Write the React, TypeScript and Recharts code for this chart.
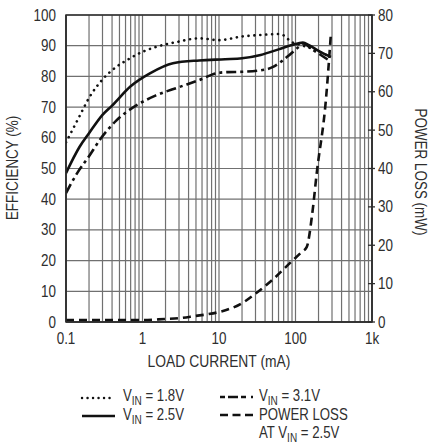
import React from "react";
import {
  CartesianGrid,
  Line,
  LineChart,
  ReferenceArea,
  XAxis,
  YAxis,
} from "recharts";

const FONT = '"Liberation Sans", Arial, sans-serif';
const INK = "#2e2e2e";
const SQUEEZE = 0.84;

// load current (mA) and efficiency (%) per input voltage
const current18 = [0.1, 0.15, 0.2, 0.3, 0.4, 0.7, 1, 1.5, 2.8, 5.5, 10, 20, 35, 60, 72, 85, 115, 170, 290];
const eff18 = [58.5, 67, 73, 79, 82, 86, 88, 89.6, 91.2, 92.4, 91.8, 93, 93.5, 93.8, 93.2, 91.5, 90.3, 88.9, 86.2];

const current25 = [0.1, 0.15, 0.2, 0.3, 0.4, 0.7, 1.25, 2.5, 5.5, 12, 20, 35, 60, 90, 125, 150, 200, 290];
const eff25 = [48.5, 57, 61.5, 67.5, 70.5, 76.8, 81, 84.3, 85.2, 85.6, 85.9, 87, 88.8, 90.2, 91, 90.2, 88.3, 86.3];

const current31 = [0.1, 0.14, 0.2, 0.28, 0.45, 0.85, 1.5, 3, 5.5, 9.5, 13, 20, 40, 50, 77, 110, 125, 170, 290];
const eff31 = [42, 48.5, 54, 59.5, 65.5, 70.7, 73.8, 76.5, 78.8, 81.1, 81.4, 81.5, 82.2, 83, 86.3, 89.6, 90.7, 88.6, 84.8];

// power loss (mW) at VIN = 2.5V
const currentLoss = [0.1, 1, 2, 3, 5, 7, 10, 20, 30, 50, 85, 120, 140, 165, 190, 250, 290];
const powerLoss = [0.5, 0.5, 0.8, 1.0, 1.6, 2.0, 2.6, 4.9, 7.4, 11, 15.4, 18.2, 19.5, 28, 39, 58, 75];

const X_TICKS = [
  0.1, 0.2, 0.3, 0.4, 0.5, 0.6, 0.7, 0.8, 0.9,
  1, 2, 3, 4, 5, 6, 7, 8, 9,
  10, 20, 30, 40, 50, 60, 70, 80, 90,
  100, 200, 300, 400, 500, 600, 700, 800, 900,
  1000,
];
const X_LABELS: Record<string, string> = {
  "0.1": "0.1",
  "1": "1",
  "10": "10",
  "100": "100",
  "1000": "1k",
};
const EFF_TICKS = [0, 10, 20, 30, 40, 50, 60, 70, 80, 90, 100];
const LOSS_TICKS = [0, 10, 20, 30, 40, 50, 60, 70, 80];

const zip = (xs: number[], ys: number[]) =>
  xs.map((x, i) => ({ x, y: ys[i] }));

const series18 = zip(current18, eff18);
const series25 = zip(current25, eff25);
const series31 = zip(current31, eff31);
const seriesLoss = zip(currentLoss, powerLoss);

// narrow text: the reference uses a condensed sans
function Narrow({
  x,
  y,
  anchor = "start",
  size = 16,
  rotate = 0,
  squeeze = SQUEEZE,
  children,
}: {
  x: number;
  y: number;
  anchor?: "start" | "middle" | "end";
  size?: number;
  rotate?: number;
  squeeze?: number;
  children: React.ReactNode;
}) {
  return (
    <text
      transform={`translate(${x}, ${y}) rotate(${rotate}) scale(${squeeze}, 1)`}
      textAnchor={anchor}
      fontSize={size}
      fontFamily={FONT}
      fill={INK}
    >
      {children}
    </text>
  );
}

function XTick({ x, y, payload }: any) {
  const label = X_LABELS[String(payload.value)];
  if (!label) return null;
  return (
    <Narrow x={x} y={y + 22} anchor="middle">
      {label}
    </Narrow>
  );
}

function LeftTick({ x, y, payload }: any) {
  return (
    <Narrow x={x - 10} y={y + 5.5} anchor="end">
      {payload.value}
    </Narrow>
  );
}

function RightTick({ x, y, payload }: any) {
  return (
    <g>
      <line x1={x - 4} x2={x + 3} y1={y} y2={y} stroke={INK} strokeWidth={1.3} />
      <Narrow x={x + 6} y={y + 5.5}>
        {payload.value}
      </Narrow>
    </g>
  );
}

function Sample({ dash, cap }: { dash?: string; cap?: "round" | "butt" }) {
  return (
    <svg width={33} height={6} style={{ display: "block" }}>
      <line
        x1={cap === "round" ? 2 : 0}
        x2={33}
        y1={3}
        y2={3}
        stroke="#111"
        strokeWidth={cap === "round" ? 2.4 : 2.6}
        strokeDasharray={dash}
        strokeLinecap={cap ?? "butt"}
      />
    </svg>
  );
}

function Vin() {
  return (
    <tspan>
      V<tspan fontSize={12.5} dy={3.5}>IN</tspan>
      <tspan dy={-3.5}> = </tspan>
    </tspan>
  );
}

export default function App() {
  return (
    <div style={{ position: "relative", width: 435, height: 447, background: "#fff" }}>
      <style>{`body{margin:0}`}</style>
      <LineChart
        width={435}
        height={370}
        margin={{ top: 15, right: 0, bottom: 0, left: 0 }}
        style={{ position: "absolute", left: 0, top: 0 }}
      >
        <CartesianGrid yAxisId="eff" stroke="#707070" strokeWidth={1.2} />
        <XAxis
          dataKey="x"
          type="number"
          scale="log"
          domain={[0.1, 1000]}
          allowDataOverflow
          ticks={X_TICKS}
          interval={0}
          height={48}
          tick={<XTick />}
          tickLine={false}
          tickSize={0}
          tickMargin={0}
          axisLine={{ stroke: INK, strokeWidth: 1.5 }}
        />
        <YAxis
          yAxisId="eff"
          orientation="left"
          type="number"
          domain={[0, 100]}
          ticks={EFF_TICKS}
          interval={0}
          width={66}
          tick={<LeftTick />}
          tickLine={false}
          tickSize={0}
          tickMargin={0}
          axisLine={{ stroke: INK, strokeWidth: 1.5 }}
        />
        <YAxis
          yAxisId="loss"
          orientation="right"
          type="number"
          domain={[0, 80]}
          ticks={LOSS_TICKS}
          interval={0}
          width={63}
          tick={<RightTick />}
          tickLine={false}
          tickSize={0}
          tickMargin={0}
          axisLine={{ stroke: INK, strokeWidth: 1.5 }}
        />
        <ReferenceArea
          yAxisId="eff"
          x1={0.1}
          x2={1000}
          y1={0}
          y2={100}
          fill="none"
          stroke={INK}
          strokeWidth={1.5}
          ifOverflow="extendDomain"
        />
        <Line
          yAxisId="eff"
          data={series18}
          dataKey="y"
          type="monotone"
          stroke="#111"
          strokeWidth={2.6}
          strokeDasharray="0.1 5.8"
          strokeLinecap="round"
          dot={false}
          isAnimationActive={false}
        />
        <Line
          yAxisId="eff"
          data={series25}
          dataKey="y"
          type="monotone"
          stroke="#111"
          strokeWidth={2.6}
          dot={false}
          isAnimationActive={false}
        />
        <Line
          yAxisId="eff"
          data={series31}
          dataKey="y"
          type="monotone"
          stroke="#111"
          strokeWidth={2.6}
          strokeDasharray="10 4 3 4"
          dot={false}
          isAnimationActive={false}
        />
        <Line
          yAxisId="loss"
          data={seriesLoss}
          dataKey="y"
          type="monotone"
          stroke="#111"
          strokeWidth={2.6}
          strokeDasharray="8 5"
          dot={false}
          isAnimationActive={false}
        />
      </LineChart>

      <svg
        width={435}
        height={447}
        style={{ position: "absolute", left: 0, top: 0, pointerEvents: "none" }}
      >
        <Narrow x={18} y={168} anchor="middle" rotate={-90}>
          EFFICIENCY (%)
        </Narrow>
        <Narrow x={415} y={172} anchor="middle" rotate={90}>
          POWER LOSS (mW)
        </Narrow>
        <Narrow x={219} y={367} anchor="middle" size={16.5}>
          LOAD CURRENT (mA)
        </Narrow>

        <Narrow x={123} y={401} size={16.5} squeeze={0.8}>
          <Vin />1.8V
        </Narrow>
        <Narrow x={123} y={420} size={16.5} squeeze={0.8}>
          <Vin />2.5V
        </Narrow>
        <Narrow x={259} y={401} size={16.5} squeeze={0.8}>
          <Vin />3.1V
        </Narrow>
        <Narrow x={259} y={420} size={16.5} squeeze={0.8}>
          POWER LOSS
        </Narrow>
        <Narrow x={259} y={438} size={16.5} squeeze={0.8}>
          AT <Vin />2.5V
        </Narrow>
      </svg>

      <div style={{ position: "absolute", left: 80, top: 395 }}>
        <Sample dash="0.1 5.4" cap="round" />
      </div>
      <div style={{ position: "absolute", left: 82, top: 413 }}>
        <Sample />
      </div>
      <div style={{ position: "absolute", left: 220, top: 394 }}>
        <Sample dash="5 3 10 3 5" />
      </div>
      <div style={{ position: "absolute", left: 220, top: 412 }}>
        <Sample dash="8 4.5" />
      </div>
    </div>
  );
}
